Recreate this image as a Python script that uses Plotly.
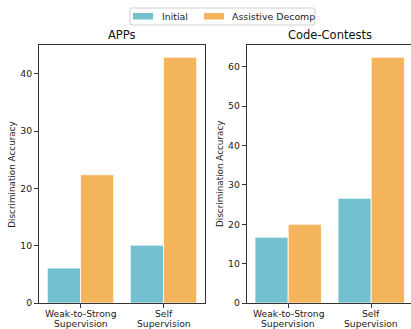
import plotly.graph_objects as go
from plotly.subplots import make_subplots

# Discrimination accuracy by supervision setting
categories = ["Weak-to-Strong\nSupervision", "Self\nSupervision"]
panels = ["APPs", "Code-Contests"]
series_names = ["Initial", "Assistive Decomp"]
apps_initial = [6.1, 10.1]
apps_assistive = [22.4, 42.9]
cc_initial = [16.7, 26.6]
cc_assistive = [20.0, 62.4]

colors = ["#73C0D1", "#F3B45C"]
FONT = "DejaVu Sans"
W, H = 411, 329
TICK_SIZE = 9.2

fig = make_subplots(rows=1, cols=2, horizontal_spacing=0.0)

panel_data = [(apps_initial, apps_assistive), (cc_initial, cc_assistive)]
for col, (init_vals, assist_vals) in enumerate(panel_data, start=1):
    for name, vals, color in zip(series_names, (init_vals, assist_vals), colors):
        fig.add_trace(
            go.Bar(
                x=list(range(len(categories))), y=vals, name=name,
                marker_color=color,
                marker_line=dict(color="white", width=0.8),
                showlegend=False,
            ),
            row=1, col=col,
        )

# axes placement in pixels
x1_left, x1_right = 39, 205
x2_left = 246.7
px_per_unit = (x1_right - x1_left) / 2.0
x2_right_range = -0.5 + (W - x2_left) / px_per_unit
top, bottom = 45, 303

axis_common = dict(
    showline=True, linecolor="#333333", linewidth=1,
    ticks="outside", ticklen=4, tickcolor="#333333", tickwidth=1,
    tickfont=dict(family=FONT, size=9.3, color="#1a1a1a"),
    showgrid=False, zeroline=False, automargin=False,
)
tick_idx = list(range(len(categories)))

fig.update_layout(
    width=W, height=H,
    margin=dict(l=0, r=0, t=0, b=0),
    plot_bgcolor="white", paper_bgcolor="white",
    barmode="group", bargap=0.2, bargroupgap=0.0,
    font=dict(family=FONT),
    xaxis=dict(domain=[x1_left / W, x1_right / W], range=[-0.5, 1.5],
               tickvals=tick_idx, showticklabels=False, mirror=True, **axis_common),
    xaxis2=dict(domain=[x2_left / W, 1.0], range=[-0.5, x2_right_range],
                tickvals=tick_idx, showticklabels=False, mirror=True, **axis_common),
    yaxis=dict(domain=[1 - bottom / H, 1 - top / H],
               range=[0, max(apps_assistive + apps_initial) * 1.05],
               tickvals=[0, 10, 20, 30, 40], mirror=True, **axis_common),
    yaxis2=dict(domain=[1 - bottom / H, 1 - top / H],
                range=[0, max(cc_assistive + cc_initial) * 1.05],
                tickvals=[0, 10, 20, 30, 40, 50, 60], mirror=False, **axis_common),
)

annotations = []
# category labels, one annotation per text line for tight line spacing
line_y = [313.2, 323.7]
for xref in ("x", "x2"):
    for i, cat in enumerate(categories):
        for line, ly in zip(cat.split("\n"), line_y):
            annotations.append(dict(
                text=line, x=i, y=1 - ly / H, xref=xref, yref="paper",
                xanchor="center", yanchor="middle", showarrow=False,
                font=dict(family=FONT, size=TICK_SIZE, color="#1a1a1a"),
            ))

# panel titles
title_centers = [(x1_left + x1_right) / 2, (x2_left + x2_left + 166.9) / 2]
for name, cx in zip(panels, title_centers):
    annotations.append(dict(
        text=name, x=cx / W, y=1 - 35 / H, xref="paper", yref="paper",
        xanchor="center", yanchor="middle", showarrow=False,
        font=dict(family=FONT, size=11.5, color="#111111"),
    ))
# y-axis titles
for cx in (11.7, 220):
    annotations.append(dict(
        text="Discrimination Accuracy", x=cx / W, y=1 - 174 / H,
        xref="paper", yref="paper", xanchor="center", yanchor="middle",
        textangle=-90, showarrow=False,
        font=dict(family=FONT, size=8.8, color="#1a1a1a"),
    ))


def rounded_rect(x0, y0, x1, y1, r):
    """SVG path of a rounded rectangle in paper coords given pixel values."""
    def px(x):
        return x / W

    def py(y):
        return 1 - y / H
    rx, ry = r / W, r / H
    return (f"M{px(x0) + rx},{py(y0)} L{px(x1) - rx},{py(y0)} "
            f"Q{px(x1)},{py(y0)} {px(x1)},{py(y0) - ry} "
            f"L{px(x1)},{py(y1) + ry} Q{px(x1)},{py(y1)} {px(x1) - rx},{py(y1)} "
            f"L{px(x0) + rx},{py(y1)} Q{px(x0)},{py(y1)} {px(x0)},{py(y1) + ry} "
            f"L{px(x0)},{py(y0) - ry} Q{px(x0)},{py(y0)} {px(x0) + rx},{py(y0)} Z")


# legend drawn as swatches + labels
shapes = [dict(type="path", xref="paper", yref="paper",
               path=rounded_rect(130, 8, 315, 25, 2),
               line=dict(color="#D0D0D0", width=1), fillcolor="white")]
swatch_x = [133, 204]
label_x = [160, 230]
for name, color, sx, lx in zip(series_names, colors, swatch_x, label_x):
    shapes.append(dict(type="rect", xref="paper", yref="paper",
                       x0=sx / W, x1=(sx + 20) / W, y0=1 - 19.5 / H, y1=1 - 13 / H,
                       line=dict(width=0), fillcolor=color))
    annotations.append(dict(
        text=name, x=lx / W, y=1 - 16.5 / H, xref="paper", yref="paper",
        xanchor="left", yanchor="middle", showarrow=False,
        font=dict(family=FONT, size=9.4, color="#1a1a1a"),
    ))

fig.update_layout(annotations=annotations, shapes=shapes)

fig.write_html("out.html")
